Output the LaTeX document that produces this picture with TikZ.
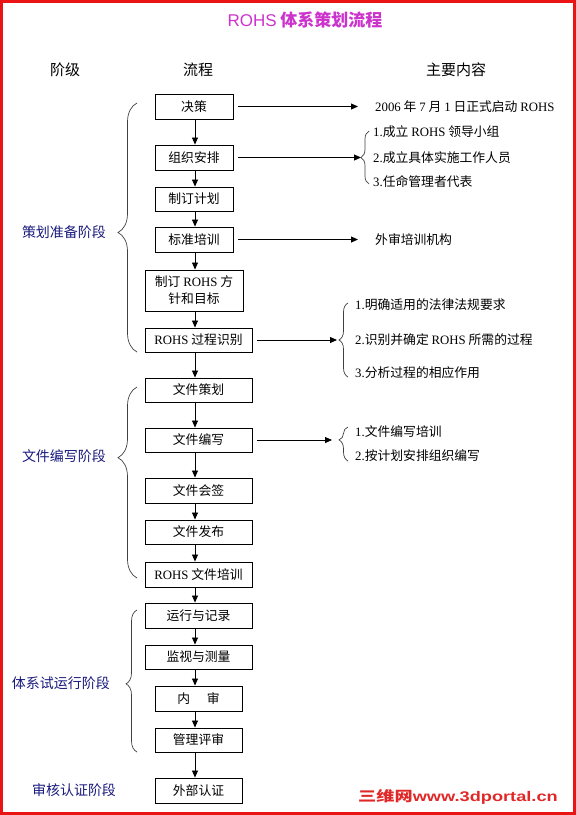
\documentclass[tikz,border=0pt]{standalone}
\usepackage{fontspec}
\setmainfont{Noto Sans CJK SC}
\newfontfamily\latf{Liberation Serif}
\newfontfamily\titlef{Liberation Sans}
\usetikzlibrary{arrows.meta,decorations.pathreplacing}
\definecolor{ttl}{RGB}{204,51,204}
\definecolor{navy}{RGB}{25,25,125}
\definecolor{framered}{RGB}{235,20,20}
\definecolor{wmred}{RGB}{225,40,40}
\newcommand\la[1]{{\latf #1}}
\begin{document}
\begin{tikzpicture}[x=1pt,y=-1pt,
  box/.style={draw,line width=0.9pt,inner sep=0pt,minimum height=25pt,align=center,font=\fontsize{12.8}{17}\selectfont},
  arr/.style={line width=0.8pt,-{Triangle[length=7pt,width=6pt]}},
  side/.style={anchor=west,inner sep=0pt,font=\fontsize{12.8}{15}\selectfont},
  stage/.style={text=navy,inner sep=0pt,font=\fontsize{14}{16}\selectfont},
  head/.style={inner sep=0pt,font=\fontsize{15}{17}\selectfont},
  brc/.style={decorate,line width=0.7pt,draw=black!75}
]
\useasboundingbox (0,0) rectangle (576,815);
\draw[framered,line width=3pt] (1.5,1.5) rectangle (574.5,813.5);

% title and headers
\node[inner sep=0pt,text=ttl,font=\fontsize{17}{20}\selectfont] (title) at (305,20) {{\titlef ROHS} {\bfseries 体系策划流程}};
\node[head] (h1) at (65,70) {阶级};
\node[head] (h2) at (198,70) {流程};
\node[head] (h3) at (456,70) {主要内容};

% flow boxes
\node[box,minimum width=78pt] (b1) at (194,106.5) {决策};
\node[box,minimum width=78pt] (b2) at (194,157.5) {组织安排};
\node[box,minimum width=78pt,minimum height=24pt] (b3) at (194,199) {制订计划};
\node[box,minimum width=78pt] (b4) at (194,239.5) {标准培训};
\node[box,minimum width=98pt,minimum height=41pt] (b5) at (194,290.5) {制订 \la{ROHS} 方\\针和目标};
\node[box,minimum width=107pt,minimum height=24pt] (b6) at (198.5,340) {\la{ROHS} 过程识别};
\node[box,minimum width=107pt,minimum height=24pt] (b7) at (198.5,390) {文件策划};
\node[box,minimum width=107pt,minimum height=24pt] (b8) at (198.5,440) {文件编写};
\node[box,minimum width=107pt] (b9) at (198.5,490.5) {文件会签};
\node[box,minimum width=107pt,minimum height=24pt] (b10) at (198.5,532) {文件发布};
\node[box,minimum width=107pt] (b11) at (198.5,574.5) {\la{ROHS} 文件培训};
\node[box,minimum width=107pt] (b12) at (198.5,615.5) {运行与记录};
\node[box,minimum width=107pt,minimum height=24pt] (b13) at (198.5,657) {监视与测量};
\node[box,minimum width=87pt] (b14) at (198.5,698.5) {内\hspace{1.3em}审};
\node[box,minimum width=87pt,minimum height=24pt] (b15) at (198.5,740) {管理评审};
\node[box,minimum width=87pt] (b16) at (198.5,790.5) {外部认证};

\coordinate (ax) at (195,0);
\foreach \a/\b in {b1/b2,b2/b3,b3/b4,b4/b5,b5/b6,b6/b7,b7/b8,b8/b9,b9/b10,b10/b11,b11/b12,b12/b13,b13/b14,b14/b15,b15/b16}
  \draw[arr] (\a.south -| ax) -- (\b.north -| ax);

% stage labels and braces
\node[stage] (s1) at (64,232) {策划准备阶段};
\node[stage] (s2) at (64,456) {文件编写阶段};
\node[stage] (s3) at (61,683) {体系试运行阶段};
\node[stage] (s4) at (74,790) {审核认证阶段};
\coordinate (B1a) at (137,352); \coordinate (B1b) at (137,103);
\coordinate (B2a) at (137,578); \coordinate (B2b) at (137,387);
\coordinate (B3a) at (137,752); \coordinate (B3b) at (137,610);
\draw[brc,decoration={brace,amplitude=19pt,aspect=0.48}] (B1a) -- (B1b);
\draw[brc,decoration={brace,amplitude=19pt,aspect=0.63}] (B2a) -- (B2b);
\draw[brc,decoration={brace,amplitude=11pt,aspect=0.48}] (B3a) -- (B3b);

% main content
\node[side] (t1) at (375,106.5) {\la{2006} 年 \la{7} 月 \la{1} 日正式启动 \la{ROHS}};
\draw[arr] ([xshift=5pt]b1.east) -- ([xshift=-17pt]t1.west);

\node[side] (a1) at (373,132) {\la{1.}成立 \la{ROHS} 领导小组};
\node[side] (a2) at (373,157.5) {\la{2.}成立具体实施工作人员};
\node[side] (a3) at (373,182) {\la{3.}任命管理者代表};
\coordinate (BAa) at (369,184); \coordinate (BAb) at (369,131);
\draw[brc,decoration={brace,amplitude=8pt}] (BAa) -- (BAb);
\coordinate (tipA) at (361,157.5);
\draw[arr] ([xshift=5pt]b2.east) -- (tipA);

\node[side] (t4) at (375,239.5) {外审培训机构};
\draw[arr] ([xshift=5pt]b4.east) -- ([xshift=-17pt]t4.west);

\node[side] (c1) at (355,305) {\la{1.}明确适用的法律法规要求};
\node[side] (c2) at (355,340) {\la{2.}识别并确定 \la{ROHS} 所需的过程};
\node[side] (c3) at (355,373) {\la{3.}分析过程的相应作用};
\coordinate (BBa) at (348,377); \coordinate (BBb) at (348,303);
\draw[brc,decoration={brace,amplitude=9pt}] (BBa) -- (BBb);
\coordinate (tipB) at (337,340);
\draw[arr] ([xshift=5pt]b6.east) -- (tipB);

\node[side] (d1) at (355,432) {\la{1.}文件编写培训};
\node[side] (d2) at (355,456) {\la{2.}按计划安排组织编写};
\coordinate (BCa) at (348,461); \coordinate (BCb) at (348,427);
\draw[brc,decoration={brace,amplitude=9pt,aspect=0.62}] (BCa) -- (BCb);
\coordinate (tipC) at (332,440);
\draw[arr] ([xshift=5pt]b8.east) -- (tipC);

% watermark
\node[anchor=west,inner sep=0pt,text=wmred,font=\bfseries\fontsize{14}{16}\selectfont] (wm) at (358,797) {\scalebox{1.3}[1]{三维网{\titlef www.3dportal.cn}}};
\end{tikzpicture}
\end{document}
